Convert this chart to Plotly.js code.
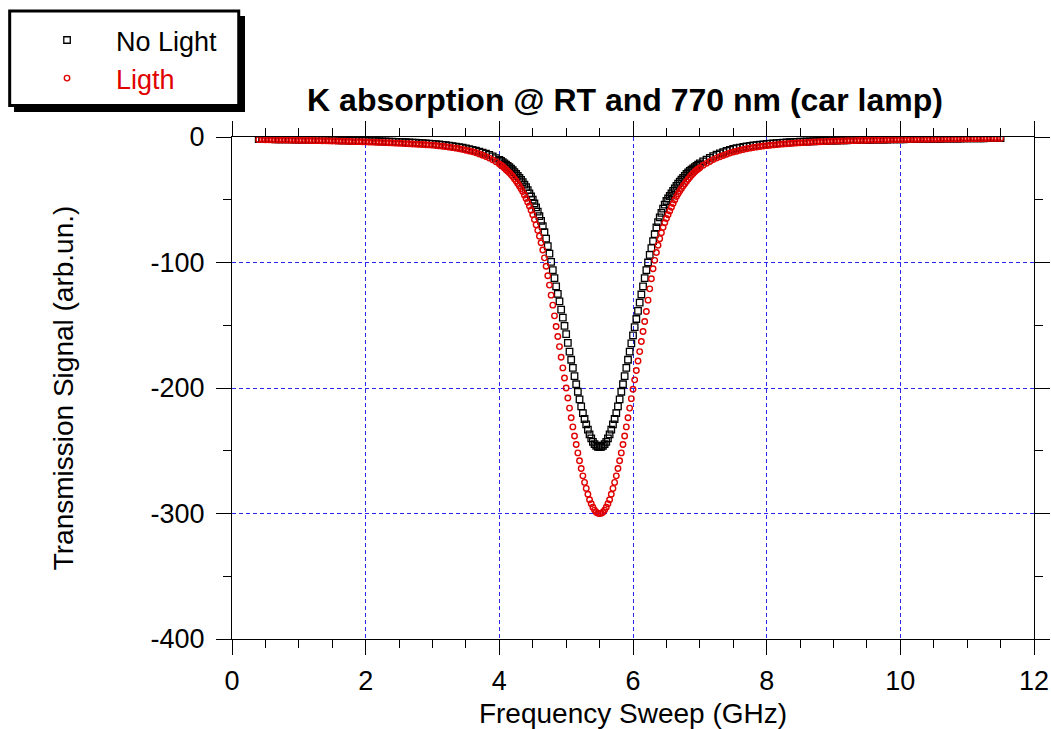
<!DOCTYPE html>
<html>
<head>
<meta charset="utf-8">
<script src="https://cdn.plot.ly/plotly-3.0.1.min.js"></script>
<style>html,body{margin:0;padding:0;background:#fff;}#chart{width:1051px;height:729px;}</style>
</head>
<body>
<div id="chart"></div>
<script>
// Frequency sweep (GHz)
const freq = [
0.40,0.45,0.50,0.55,0.60,0.65,0.70,0.75,0.80,0.85,
0.90,0.95,1.00,1.05,1.10,1.15,1.20,1.25,1.30,1.35,
1.40,1.45,1.50,1.55,1.60,1.65,1.70,1.75,1.80,1.85,
1.90,1.95,2.00,2.05,2.10,2.15,2.20,2.25,2.30,2.35,
2.40,2.45,2.50,2.55,2.60,2.65,2.70,2.75,2.80,2.85,
2.90,2.95,3.00,3.05,3.10,3.15,3.20,3.25,3.30,3.35,
3.40,3.45,3.50,3.55,3.60,3.65,3.70,3.75,3.80,3.85,
3.90,3.95,
4.000,4.025,4.050,4.075,4.100,4.125,4.150,4.175,4.200,4.225,
4.250,4.275,4.300,4.325,4.350,4.375,4.400,4.425,4.450,4.475,
4.500,4.525,4.550,4.575,4.600,4.625,4.650,4.675,4.700,4.725,
4.750,4.775,4.800,4.825,4.850,4.875,4.900,4.925,4.950,4.975,
5.000,5.025,5.050,5.075,5.100,5.125,5.150,5.175,5.200,5.225,
5.250,5.275,5.300,5.325,5.350,5.375,5.400,5.425,5.450,5.475,
5.500,
5.525,5.550,5.575,5.600,5.625,5.650,5.675,5.700,5.725,5.750,
5.775,5.800,5.825,5.850,5.875,5.900,5.925,5.950,5.975,6.000,
6.025,6.050,6.075,6.100,6.125,6.150,6.175,6.200,6.225,6.250,
6.275,6.300,6.325,6.350,6.375,6.400,6.425,6.450,6.475,6.500,
6.525,6.550,6.575,6.600,6.625,6.650,6.675,6.700,6.725,6.750,
6.775,6.800,6.825,6.850,6.875,6.900,6.925,6.950,6.975,7.000,
7.05,7.10,7.15,7.20,7.25,7.30,7.35,7.40,7.45,7.50,
7.55,7.60,7.65,7.70,7.75,7.80,7.85,7.90,7.95,8.00,
8.05,8.10,8.15,8.20,8.25,8.30,8.35,8.40,8.45,8.50,
8.55,8.60,8.65,8.70,8.75,8.80,8.85,8.90,8.95,9.00,
9.05,9.10,9.15,9.20,9.25,9.30,9.35,9.40,9.45,9.50,
9.55,9.60,9.65,9.70,9.75,9.80,9.85,9.90,9.95,10.00,
10.05,10.10,10.15,10.20,10.25,10.30,10.35,10.40,10.45,10.50,
10.55,10.60,10.65,10.70,10.75,10.80,10.85,10.90,10.95,11.00,
11.05,11.10,11.15,11.20,11.25,11.30,11.35,11.40,11.45,11.50
];

// Transmission signal, no light (arb.un.)
const noLight = [
-1.6,-1.6,-1.7,-1.7,-1.7,-1.8,-1.8,-1.8,-1.9,-1.9,
-1.9,-2.0,-2.0,-2.0,-2.1,-2.1,-2.2,-2.2,-2.3,-2.3,
-2.4,-2.4,-2.5,-2.5,-2.6,-2.7,-2.7,-2.8,-2.8,-2.9,
-3.0,-3.0,-3.1,-3.2,-3.3,-3.3,-3.4,-3.5,-3.6,-3.7,
-3.8,-3.9,-4.0,-4.1,-4.2,-4.4,-4.5,-4.6,-4.8,-4.9,
-5.1,-5.2,-5.4,
-5.6,-5.9,-6.2,-6.5,-6.8,-7.2,-7.6,-8.0,-8.5,-9.0,
-9.6,-10.2,-10.9,-11.6,-12.4,-13.3,-14.3,-15.5,-16.8,
-18.3,-19.1,-20,-21,-22,-23,-24,-25.2,-26.5,-28,
-29.5,-31,-32.5,-34.2,-36,-38,-40,-42.4,-45,-47.4,
-50,-53,-56,-59.4,-63,-66.8,-71,-75.8,-81,-87,
-93,-99.5,-106,-112.5,-119,-125,-131,-137.5,-144,-150.5,
-157,-164,-171,-177.5,-184,-190.5,-197,-203,-209,-214.7,
-220,-224.7,-229,-233.2,-237,-240.2,-243,-244.8,-246,-246.8,
-247,
-246.8,-246,-244.8,-243,-240.2,-237,-233.2,-229,-224.7,-220,
-214.7,-209,-203,-197,-190.5,-184,-177.5,-171,-164.5,-158,
-151.5,-145,-138.5,-132,-125.5,-119,-112.5,-106,-100,-94,
-88.5,-83,-77.5,-72,-67.8,-64,-60.4,-57,-53.9,-51,
-49,-47,-45,-43,-41,-39,-37.2,-35.5,-34,-32.5,
-31,-29.5,-28.2,-27,-26,-25,-24,-23,-22,-21,
-19.5,-18,-16.6,-15.3,-14.1,-13,-12,-11,-10.2,-9.5,
-8.9,-8.4,-7.9,-7.5,-7.1,-6.7,-6.4,-6.1,-5.8,-5.5,
-5.3,-5.1,-4.9,-4.7,-4.5,-4.4,-4.2,-4.1,-3.9,-3.8,
-3.7,-3.6,-3.5,-3.4,-3.3,-3.2,-3.1,-3.0,-2.9,-2.8,
-2.8,-2.7,-2.6,-2.6,-2.5,-2.4,-2.4,-2.3,-2.3,-2.2,
-2.2,-2.1,-2.1,-2.0,-2.0,-2.0,-1.9,-1.9,-1.8,-1.8,
-1.8,-1.7,-1.7,-1.7,-1.6,-1.6,-1.6,-1.5,-1.5,-1.4,
-1.4,-1.4,-1.3,-1.3,-1.3,-1.2,-1.2,-1.2,-1.1,-1.1,
-1.1,-1.0,-1.0,-1.0,-1.0,-0.9,-0.9,-0.9,-0.9,-0.9
];

// Transmission signal, with light (arb.un.)
const withLight = [
-2.1,-2.1,-2.2,-2.2,-2.3,-2.3,-2.4,-2.4,-2.4,-2.5,
-2.5,-2.6,-2.6,-2.7,-2.7,-2.8,-2.8,-2.9,-2.9,-3.0,
-3.0,-3.1,-3.2,-3.2,-3.3,-3.4,-3.4,-3.5,-3.6,-3.7,
-3.7,-3.8,-3.9,-4.0,-4.1,-4.2,-4.3,-4.4,-4.5,-4.6,
-4.7,-4.9,-5.0,-5.1,-5.3,-5.4,-5.6,-5.7,-5.9,-6.0,
-6.2,-6.3,-6.5,
-6.8,-7.1,-7.4,-7.7,-8.1,-8.5,-8.9,-9.4,-9.9,-10.5,
-11.1,-11.8,-12.6,-13.5,-14.5,-15.6,-16.8,-18.2,-19.7,
-21.5,-22.5,-23.5,-24.7,-26,-27.2,-28.5,-30,-31.5,-33.2,
-35,-37,-39,-41.2,-43.5,-46.2,-49,-52,-55,-58.4,
-62,-65.8,-70,-74.4,-79,-84.3,-90,-96.3,-103,-110.5,
-118,-126,-134,-142.5,-151,-159,-167,-175.5,-184,-192,
-200,-208,-216,-223.7,-231,-238.2,-245,-251.7,-258,-264.2,
-270,-275.2,-280,-284.7,-289,-292.2,-295,-297.3,-299,-299.8,
-300,
-299.8,-299,-297.3,-295,-292.2,-289,-284.7,-280,-275.2,-270,
-264.2,-258,-251.7,-245,-238.2,-231,-223.7,-216,-208.5,-201,
-193.5,-186,-178.5,-171,-163,-155,-147,-139,-130,-121,
-113,-105,-98.3,-92,-86.3,-81,-76.3,-72,-68.3,-65,
-62,-59,-56,-53,-50.2,-47.5,-45.2,-43,-41,-39,
-37.2,-35.5,-33.7,-32,-30.5,-29,-27.7,-26.5,-25.5,-24.5,
-22.5,-21,-19.5,-18,-16.8,-15.7,-14.7,-13.7,-12.8,-12.0,
-11.3,-10.6,-10.0,-9.4,-8.9,-8.4,-8.0,-7.6,-7.2,-6.9,
-6.6,-6.3,-6.1,-5.8,-5.6,-5.4,-5.2,-5.0,-4.8,-4.6,
-4.5,-4.3,-4.2,-4.0,-3.9,-3.8,-3.7,-3.5,-3.4,-3.3,
-3.2,-3.2,-3.1,-3.0,-2.9,-2.9,-2.8,-2.7,-2.7,-2.6,
-2.5,-2.5,-2.4,-2.4,-2.3,-2.3,-2.2,-2.2,-2.1,-2.1,
-2.0,-2.0,-2.0,-1.9,-1.9,-1.8,-1.8,-1.8,-1.7,-1.7,
-1.7,-1.6,-1.6,-1.6,-1.5,-1.5,-1.5,-1.4,-1.4,-1.4,
-1.3,-1.3,-1.3,-1.2,-1.2,-1.2,-1.1,-1.1,-1.1,-1.1
];

const seriesNames = ['No Light', 'Ligth'];
const xTickVals = [0, 2, 4, 6, 8, 10, 12];
const xTickText = ['0', '2', '4', '6', '8', '10', '12'];
const yTickVals = [-400, -300, -200, -100, 0];
const yTickText = ['-400', '-300', '-200', '-100', '0'];

const FONT = 'Liberation Sans, Arial, Helvetica, sans-serif';
const GRID = 'rgb(40,40,240)';

const traces = [
  {
    x: freq, y: noLight, type: 'scatter', mode: 'markers', name: seriesNames[0],
    marker: {symbol: 'square-open', size: 6.5, color: 'black', line: {width: 1.3, color: 'black'}}
  },
  {
    x: freq, y: withLight, type: 'scatter', mode: 'markers',
    name: '<span style="color:#e00000">' + seriesNames[1] + '</span>',
    marker: {symbol: 'circle-open', size: 5.5, color: '#e00000', line: {width: 1.4, color: '#e00000'}}
  }
];

const layout = {
  width: 1051, height: 729,
  margin: {l: 232, r: 17, t: 137, b: 90, pad: 0},
  paper_bgcolor: 'white', plot_bgcolor: 'white',
  font: {family: FONT, size: 27, color: 'black'},
  showlegend: true,
  title: {
    text: '<b>K absorption @ RT and 770 nm (car lamp)</b>',
    font: {family: FONT, size: 32, color: 'black'},
    xref: 'paper', x: 0.49, xanchor: 'center',
    yref: 'container', y: 0.863, yanchor: 'middle'
  },
  legend: {
    x: -0.2668, y: 1.2411, xanchor: 'left', yanchor: 'top',
    bgcolor: 'rgba(0,0,0,0)', borderwidth: 0,
    font: {family: FONT, size: 27, color: 'black'},
    itemwidth: 88, tracegroupgap: 0
  },
  xaxis: {
    range: [0, 12], tickmode: 'array', tickvals: xTickVals, ticktext: xTickText,
    ticks: 'outside', ticklen: 15, tickwidth: 1, tickcolor: 'black',
    showline: true, linecolor: 'black', linewidth: 1, mirror: 'ticks',
    showgrid: true, gridcolor: GRID, gridwidth: 1, griddash: '4px,3px',
    zeroline: false,
    minor: {tickmode: 'linear', tick0: 0, dtick: 0.5, ticks: 'outside', ticklen: 8, tickcolor: 'black', tickwidth: 1, showgrid: false},
    tickfont: {family: FONT, size: 27, color: 'black'},
    ticklabelstandoff: 3,
    title: {text: 'Frequency Sweep (GHz)', font: {family: FONT, size: 28, color: 'black'}, standoff: 8}
  },
  xaxis2: {
    range: [0, 12], overlaying: 'x', anchor: 'y', side: 'bottom',
    tickmode: 'array', tickvals: xTickVals, ticks: 'inside', ticklen: 6, tickwidth: 1, tickcolor: 'black',
    showticklabels: false, showline: false, showgrid: false, zeroline: false
  },
  yaxis: {
    range: [-400, 0], tickmode: 'array', tickvals: yTickVals, ticktext: yTickText,
    ticks: 'outside', ticklen: 15, tickwidth: 1, tickcolor: 'black',
    showline: true, linecolor: 'black', linewidth: 1, mirror: 'ticks',
    showgrid: true, gridcolor: GRID, gridwidth: 1, griddash: '4px,3px',
    zeroline: false,
    minor: {tickmode: 'linear', tick0: 0, dtick: 50, ticks: 'outside', ticklen: 8, tickcolor: 'black', tickwidth: 1, showgrid: false},
    tickfont: {family: FONT, size: 27, color: 'black'},
    ticklabelstandoff: 6,
    title: {text: 'Transmission Signal (arb.un.)', font: {family: FONT, size: 28, color: 'black'}, standoff: 68}
  },
  shapes: [
    {type: 'rect', xref: 'paper', yref: 'paper', x0: -0.2718, x1: 0.0162, y0: 1.0498, y1: 1.2410,
     fillcolor: 'black', line: {width: 0}, layer: 'above'},
    {type: 'rect', xref: 'paper', yref: 'paper', x0: -0.2772, x1: 0.0084, y0: 1.0627, y1: 1.2510,
     fillcolor: 'white', line: {width: 3, color: 'black'}, layer: 'above'}
  ]
};

Plotly.newPlot('chart', traces, layout, {staticPlot: true, displayModeBar: false});
</script>
</body>
</html>
